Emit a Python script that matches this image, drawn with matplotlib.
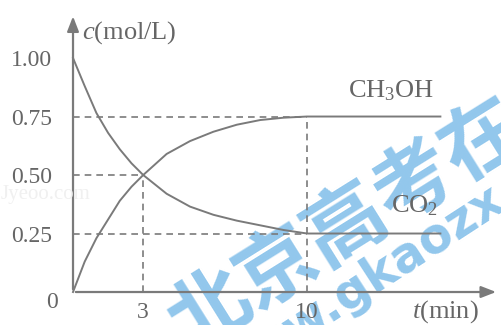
import matplotlib
matplotlib.use("Agg")
import matplotlib.pyplot as plt

plt.rcParams['font.family'] = ['Liberation Serif', 'DejaVu Serif']
plt.rcParams['mathtext.fontset'] = 'custom'
plt.rcParams['mathtext.rm'] = 'Liberation Serif'
plt.rcParams['mathtext.it'] = 'Liberation Serif:italic'

# concentration vs time (min, mol/L)
t = [0, 0.5, 1, 1.5, 2, 2.5, 3, 4, 5, 6, 7, 8, 9, 10]
co2 = [1.00, 0.88, 0.765, 0.68, 0.61, 0.55, 0.50, 0.42, 0.365, 0.33, 0.305, 0.285, 0.265, 0.25]
ch3oh = [0.0, 0.13, 0.23, 0.31, 0.39, 0.45, 0.50, 0.59, 0.645, 0.685, 0.715, 0.735, 0.745, 0.75]
t_end = 15.7
yticks = [0.25, 0.50, 0.75, 1.00]
xticks = [3, 10]

grey = '#7a7a7a'
txt = '#666666'

fig = plt.figure(figsize=(5.01, 3.25), dpi=100)
ax = fig.add_axes([0, 0, 1, 1])
ax.set_xlim(-3.12, 18.29)
ax.set_ylim(-0.141, 1.248)
for s in ax.spines.values():
    s.set_visible(False)
ax.spines['left'].set_position(('data', 0))
ax.spines['bottom'].set_position(('data', 0))

ax.set_yticks(yticks)
ax.set_yticklabels(['%.2f' % v for v in yticks])
ax.set_xticks(xticks)
ax.set_xticklabels([str(v) for v in xticks])
ax.tick_params(axis='y', length=0, pad=15, labelsize=17, labelcolor=txt)
ax.tick_params(axis='x', length=0, pad=7, labelsize=17, labelcolor=txt)

# axes with arrow heads
ax.annotate('', xy=(0, 1.19), xytext=(0, 0),
            arrowprops=dict(arrowstyle='-|>,head_length=0.9,head_width=0.35', color=grey, lw=1.6))
ax.annotate('', xy=(18.2, 0), xytext=(0, 0),
            arrowprops=dict(arrowstyle='-|>,head_length=0.9,head_width=0.35', color=grey, lw=1.6))

# guide lines
dash = dict(color=grey, lw=1.2, ls=(0, (4, 3)))
ax.plot([0, 10], [0.75, 0.75], **dash)
ax.plot([0, 3], [0.50, 0.50], **dash)
ax.plot([0, 10], [0.25, 0.25], **dash)
ax.plot([3, 3], [0, 0.50], **dash)
ax.plot([10, 10], [0, 0.75], **dash)

# curves and plateaus
ax.plot(t + [t_end], co2 + [co2[-1]], color=grey, lw=1.4)
ax.plot(t + [t_end], ch3oh + [ch3oh[-1]], color=grey, lw=1.4)

ax.text(13.6, 0.86, 'CH$_3$OH', fontsize=19, color=txt, ha='center', va='center')
ax.text(14.6, 0.37, 'CO$_2$', fontsize=19, color=txt, ha='center', va='center')
ax.text(0.4, 1.11, '$c$(mol/L)', fontsize=19, color=txt, ha='left', va='center')
ax.text(15.9, -0.085, '$t$(min)', fontsize=19, color=txt, ha='center', va='center')
ax.text(-0.9, -0.045, '0', fontsize=17, color=txt, ha='center', va='center')

ax.text(-3.1, 0.415, 'Jyeoo.com', fontsize=15, color='#f0f0f0', ha='left', va='center')

# watermark, kept under the chart lines
ax.text(0.76, 0.37, '北京高考在线', transform=ax.transAxes, fontsize=58, fontweight='bold',
        family=['Noto Sans CJK SC'], color='#7fbde9', alpha=0.85, zorder=0.5,
        rotation=32, ha='center', va='center', rotation_mode='anchor')
ax.text(0.71, 0.11, 'www.gkaozx', transform=ax.transAxes, fontsize=35, fontweight='bold',
        family=['DejaVu Sans'], color='#7fbde9', alpha=0.85, zorder=0.5,
        rotation=33, ha='center', va='center', rotation_mode='anchor')

fig.savefig('out.png', dpi=100)
